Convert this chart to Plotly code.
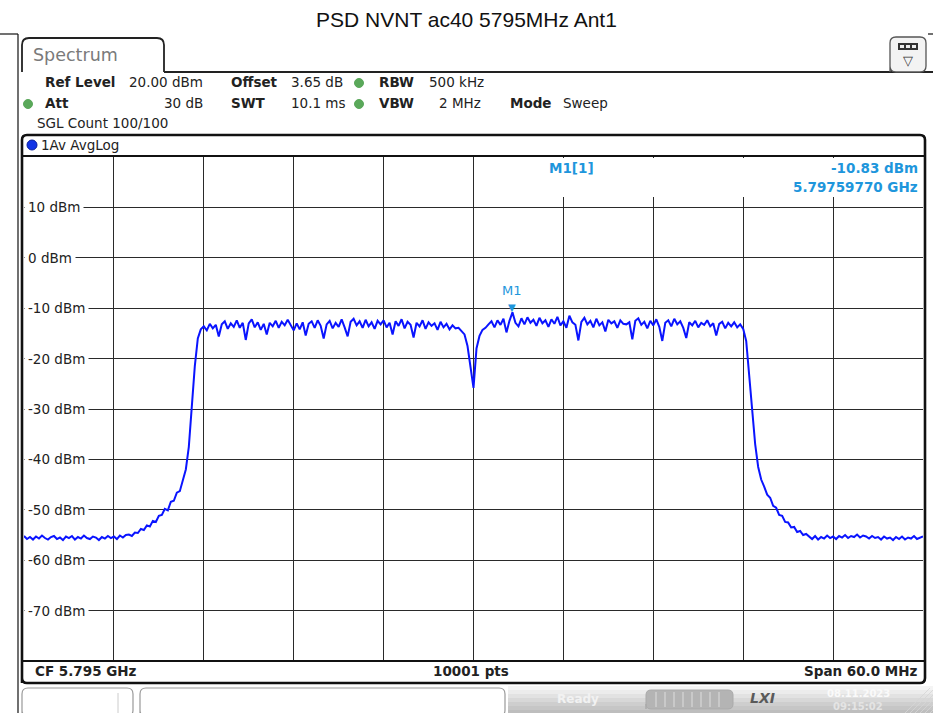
import plotly.graph_objects as go

# ---- trace data (dBm) at 0.2 MHz steps ----
f_start_ghz = 5.765
f_step_ghz = 0.0002

floor_left = [-55.2, -55.8, -55.4, -55.9, -55.3, -55.7, -55.1, -55.6, -55.9, -55.4,
              -55.2, -55.8, -55.5, -56.0, -55.3, -55.6, -55.2, -55.9, -55.4, -55.7,
              -55.1, -55.6, -55.8, -55.3, -55.5, -56.0, -55.4, -55.7, -55.2, -55.6,
              -55.3, -55.8, -55.1, -55.5, -55.0]
rise_left = [-54.9, -55.2, -54.5, -54.6, -53.8, -54.0, -53.1, -53.3, -52.2, -52.4,
             -51.2, -51.0, -49.8, -50.1, -48.4, -48.2, -46.6, -46.3, -44.2, -42.0,
             -37.5, -29.5, -21.5, -16.0]
plateau_left = [-14.2, -13.6, -14.4, -13.1, -14.0, -13.3, -15.6, -13.2, -12.6, -14.1,
                -13.0, -13.7, -12.4, -13.9, -12.9, -16.3, -13.0, -12.2, -13.8, -12.8,
                -14.3, -13.1, -15.2, -12.9, -13.6, -12.5, -13.9, -12.7, -13.4, -12.3,
                -13.5, -14.4, -13.0, -14.2, -12.8, -15.4, -13.1, -12.6, -13.9, -12.4,
                -13.5, -16.0, -13.2, -12.5, -14.0, -12.9, -13.7, -12.2, -13.8, -15.6,
                -12.7, -12.1, -13.4, -12.6, -13.9, -12.3, -13.6, -12.8, -14.1, -12.5,
                -13.2, -12.4, -13.8, -12.9, -15.2, -12.6, -13.5, -12.2, -14.0, -12.7,
                -13.3, -15.8, -12.9, -13.6, -12.4, -14.1, -12.8, -13.5, -13.0, -14.3,
                -12.7, -13.8, -13.1, -14.2, -13.4, -14.0, -13.9, -14.6]
center_dip = [-15.2, -17.5, -22.0, -25.8, -18.0, -15.5, -14.3]
plateau_right = [-13.9, -13.2, -12.6, -13.8, -12.4, -13.3, -12.1, -14.8, -12.5, -10.83,
                 -12.9, -13.6, -12.0, -13.2, -11.8, -12.9, -12.3, -13.5, -11.9, -13.0,
                 -12.4, -13.7, -12.2, -13.1, -11.7, -13.4, -12.6, -13.9, -11.5, -12.8,
                 -13.3, -16.4, -12.7, -11.9, -13.2, -12.5, -13.8, -12.1, -13.4, -12.8,
                 -14.6, -12.3, -13.0, -12.6, -13.9, -12.4, -13.1, -13.2, -12.8, -16.2,
                 -12.5, -12.0, -13.3, -12.7, -14.0, -12.5, -13.4, -12.2, -13.7, -16.5,
                 -12.9, -12.4, -13.6, -12.1, -13.2, -12.6, -13.9, -15.9, -12.8, -13.4,
                 -12.5, -13.8, -12.9, -13.3, -12.4, -13.6, -13.0, -15.4, -13.1, -12.7,
                 -14.0, -12.9, -13.6, -12.8, -13.8, -13.2, -14.1]
fall_right = [-16.5, -23.5, -30.0, -37.0, -41.5, -44.0, -45.4, -47.0, -47.6, -49.2,
              -49.6, -51.0, -51.2, -52.4, -52.5, -53.5, -53.4, -54.4, -54.2, -55.0,
              -54.8, -55.4]
floor_right = [-55.8, -55.2, -55.9, -55.4, -55.7, -55.1, -55.6, -55.3, -55.8, -55.2,
               -55.5, -55.0, -55.6, -55.2, -55.4, -54.9, -55.5, -55.1, -55.3, -55.7,
               -55.2, -55.6, -55.4, -55.9, -55.3, -55.7, -55.5, -56.0, -55.4, -55.8,
               -55.3, -55.9, -55.5, -55.7, -55.2, -55.8, -55.6, -55.3]

level = floor_left + rise_left + plateau_left + center_dip + plateau_right + fall_right + floor_right
assert len(level) == 301, len(level)
freq = [f_start_ghz + f_step_ghz * i for i in range(len(level))]

y_ticks = [10, 0, -10, -20, -30, -40, -50, -60, -70]
y_labels = ["10 dBm", "0 dBm", "-10 dBm", "-20 dBm", "-30 dBm", "-40 dBm", "-50 dBm", "-60 dBm", "-70 dBm"]
m1_freq = 5.7975977
m1_level = -10.83

# ---- page geometry (pixels) ----
W, H = 933, 713
L, R, T, B = 24, 923, 157, 661
FONT = "DejaVu Sans"
MK = "#1e96dc"


def X(p):
    return (p - L) / (R - L)


def Y(p):
    return (B - p) / (B - T)


shapes = []
ann = []


def line(x0, y0, x1, y1, color="#222", width=1, layer="above"):
    shapes.append(dict(type="line", xref="paper", yref="paper", x0=X(x0), y0=Y(y0),
                       x1=X(x1), y1=Y(y1), line=dict(color=color, width=width), layer=layer))


def rect(x0, y0, x1, y1, fill=None, color=None, width=0, layer="above"):
    shapes.append(dict(type="rect", xref="paper", yref="paper", x0=X(x0), y0=Y(y0),
                       x1=X(x1), y1=Y(y1), fillcolor=fill or "rgba(0,0,0,0)",
                       line=dict(color=color or "rgba(0,0,0,0)", width=width), layer=layer))


def circle(cx, cy, r, fill, color=None):
    shapes.append(dict(type="circle", xref="paper", yref="paper", x0=X(cx - r), y0=Y(cy - r),
                       x1=X(cx + r), y1=Y(cy + r), fillcolor=fill,
                       line=dict(color=color or fill, width=1), layer="above"))


def rpath(x0, y0, x1, y1, r, color, width, fill=None, open_bottom=False):
    pts = [f"M {X(x0)} {Y(y1)}", f"L {X(x0)} {Y(y0 + r)}",
           f"Q {X(x0)} {Y(y0)} {X(x0 + r)} {Y(y0)}", f"L {X(x1 - r)} {Y(y0)}",
           f"Q {X(x1)} {Y(y0)} {X(x1)} {Y(y0 + r)}"]
    if open_bottom:
        pts.append(f"L {X(x1)} {Y(y1)}")
    else:
        pts += [f"L {X(x1)} {Y(y1 - r)}", f"Q {X(x1)} {Y(y1)} {X(x1 - r)} {Y(y1)}",
                f"L {X(x0 + r)} {Y(y1)}", f"Q {X(x0)} {Y(y1)} {X(x0)} {Y(y1 - r)}", "Z"]
    shapes.append(dict(type="path", xref="paper", yref="paper", path=" ".join(pts),
                       fillcolor=fill or "rgba(0,0,0,0)", line=dict(color=color, width=width),
                       layer="above"))


def text(x, y, s, size=13.5, color="#222", bold=False, anchor="left", family=FONT, **kw):
    ann.append(dict(x=X(x), y=Y(y), xref="paper", yref="paper", text=s, showarrow=False,
                    xanchor=anchor, yanchor="middle",
                    font=dict(family=family, size=size, color=color,
                              weight="bold" if bold else "normal"), **kw))


# outer frame
line(0, 34, 18, 34, "#111", 1.2)
line(18, 34, 18, 713, "#111", 1.2)
line(928, 34, 933, 34, "#111", 1.2)

# Spectrum tab and top rule
rpath(22, 38, 164, 72, 7, "#222", 1.8, fill="white", open_bottom=True)
line(164, 72, 933, 72, "#222", 1.8)
text(31, 55, "Spectrum", 17.5, "#7a7a7a")

# settings icon
rpath(890, 37, 926, 72, 6, "#555", 1.3, fill="#f3f3f3")
rect(898, 43, 918, 50, fill="#333")
for xx in (900, 906, 912):
    rect(xx, 45, xx + 4, 48, fill="#eee")
text(908, 60, "▽", 13, "#333", anchor="center")

# header settings
hb = dict(bold=True, size=13.5)
text(43, 82, "Ref Level", **hb)
text(127, 82, "20.00 dBm")
text(229, 82, "Offset", **hb)
text(289, 82, "3.65 dB")
circle(359, 83, 4.5, "#5aa85a")
text(377, 82, "RBW", **hb)
text(427, 82, "500 kHz")
circle(28, 104, 4.5, "#5aa85a")
text(43, 103, "Att", **hb)
text(205, 103, "30 dB", anchor="right")
text(229, 103, "SWT", **hb)
text(289, 103, "10.1 ms")
circle(359, 104, 4.5, "#5aa85a")
text(377, 103, "VBW", **hb)
text(483, 103, "2 MHz", anchor="right")
text(508, 103, "Mode", **hb)
text(561, 103, "Sweep")
text(35, 123, "SGL Count 100/100")

# diagram panel
rpath(22, 135, 925, 683, 5, "#111", 2.6)
line(22, 156, 925, 156, "#111", 1.8)
circle(32, 145, 5, "#1234e6", "#0a1fa0")
text(39, 145, "1Av AvgLog", 13.5)
line(22, 661, 925, 661, "#111", 1.8)
text(33, 671, "CF 5.795 GHz", 13.5, bold=True)
text(471, 671, "10001 pts", 13.5, bold=True, anchor="center")
text(920, 671, "Span 60.0 MHz", 13.5, bold=True, anchor="right")

# hide grid behind the marker readout
rect(481, 158, 921, 197, fill="white")
text(571, 168, "M1[1]", 13.5, MK, bold=True, anchor="center")
text(920, 168, "-10.83 dBm", 13.5, MK, bold=True, anchor="right")
text(920, 187, "5.79759770 GHz", 13.5, MK, bold=True, anchor="right")

# status bar
rpath(22, 688, 133, 716, 6, "#999", 1.2, fill="white")
line(118, 693, 118, 713, "#ccc", 1)
rpath(140, 688, 505, 716, 6, "#999", 1.2, fill="white")
greys = ["#f4f4f4", "#ececec", "#e2e2e2", "#d8d8d8", "#cecece", "#c6c6c6", "#bebebe"]
for k, g in enumerate(greys):
    rect(508, 686 + 4 * k, 933, 690 + 4 * k, fill=g, layer="below")
text(578, 699, "Ready", 12, "#f2f2f2", bold=True, anchor="center")
rpath(646, 690, 733, 709, 5, "#aaa", 1, fill="#b4b4b4")
for xx in range(656, 728, 9):
    line(xx, 692, xx, 707, "#dedede", 1)
text(762, 698, "<i>LXI</i>", 14, "#5a5a5a", bold=True, anchor="center")
text(858, 693, "08.11.2023", 10, "#fafafa", bold=True, anchor="center")
text(858, 706, "09:15:02", 10, "#e4e4e4", bold=True, anchor="center")
for xx in range(905, 940, 5):
    line(xx, 713, xx + 25, 688, "#d6d6d6", 0.8)

# y-axis labels sit on the grid with a white background
for v, lab in zip(y_ticks, y_labels):
    ann.append(dict(x=X(24), y=v, xref="paper", yref="y", text=lab, showarrow=False,
                    xanchor="left", yanchor="middle", bgcolor="white", borderpad=3,
                    font=dict(family=FONT, size=13.5, color="#222")))

# marker M1
ann.append(dict(x=m1_freq, y=m1_level, xref="x", yref="y", text="▼", showarrow=False,
                yanchor="bottom", yshift=-3, font=dict(family=FONT, size=10, color=MK)))
ann.append(dict(x=m1_freq, y=m1_level, xref="x", yref="y", text="M1", showarrow=False,
                yanchor="bottom", yshift=12, font=dict(family=FONT, size=13, color=MK)))

fig = go.Figure()
fig.add_trace(go.Scatter(x=freq, y=level, mode="lines", line=dict(color="#0a14ff", width=2),
                         hoverinfo="skip", showlegend=False))

fig.update_layout(
    width=W, height=H, autosize=False,
    margin=dict(l=L, r=W - R, t=T, b=H - B, pad=0),
    paper_bgcolor="white", plot_bgcolor="white",
    title=dict(text="PSD NVNT ac40 5795MHz Ant1", x=0.5, xanchor="center", y=1 - 20 / H,
               yanchor="middle", font=dict(family="Liberation Sans", size=21, color="#111")),
    shapes=shapes, annotations=ann, showlegend=False,
)
fig.update_xaxes(range=[5.765, 5.825], dtick=0.006, tick0=5.765, showgrid=True,
                 gridcolor="#2a2a2a", gridwidth=1.2, showticklabels=False, ticks="",
                 zeroline=False, showline=False)
fig.update_yaxes(range=[-80, 20], dtick=10, tick0=-80, showgrid=True,
                 gridcolor="#2a2a2a", gridwidth=1.2, showticklabels=False, ticks="",
                 zeroline=False, showline=False)

fig.write_html("out.html", config={"displayModeBar": False},
               post_script="document.body.style.margin='0';document.body.style.overflow='hidden';")
